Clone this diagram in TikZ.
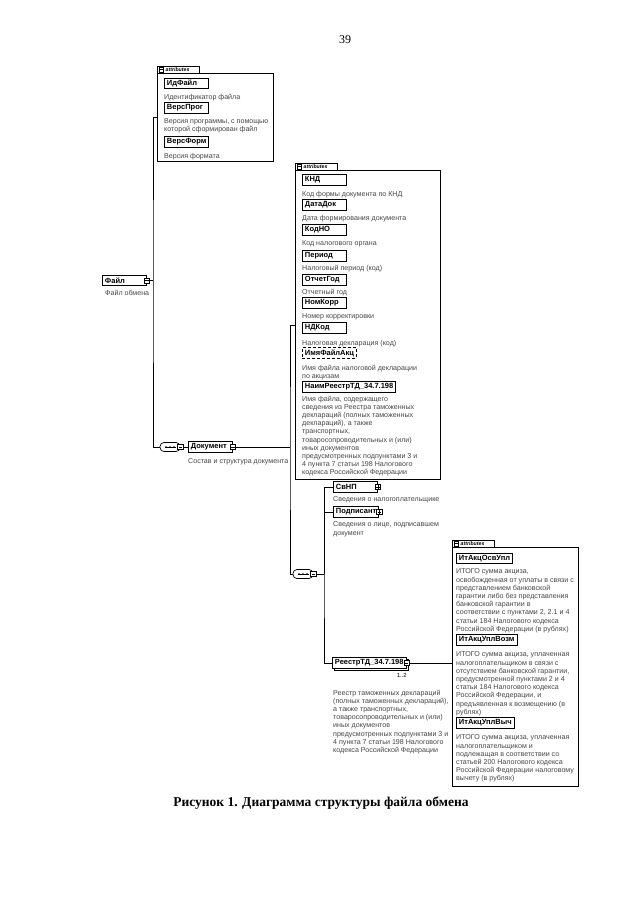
\documentclass[tikz,border=0pt]{standalone}
\usepackage{fontspec}
\setmainfont{Liberation Serif}
\newfontfamily\dgfont{Liberation Sans}
\usetikzlibrary{shadows}

\newcommand{\elnm}[1]{\setbox0=\hbox{#1}\ifdim\wd0<39pt\hbox to 39pt{\box0\hfil}\else\box0\fi}

\tikzset{
  pics/plusbox/.style={code={
    \draw[fill=white, line width=0.5pt] (-2.7,-2.7) rectangle (2.7,2.7);
    \draw[line width=0.5pt] (-1.6,0) -- (1.6,0) (0,-1.6) -- (0,1.6);
  }},
  pics/minusbox/.style={code={
    \draw[fill=white, line width=0.5pt] (-2.7,-2.7) rectangle (2.7,2.7);
    \draw[line width=0.5pt] (-1.6,0) -- (1.6,0);
  }},
  pics/seqdots/.style={code={
    \draw[line width=0.5pt] (-5.5,0) -- (5.5,0);
    \fill (-4,0) circle (0.9) (0,0) circle (0.9) (4,0) circle (0.9);
  }},
  pics/atab/.style={code={
    \draw[fill=white, line width=0.6pt] (0,0) rectangle (42,7);
    \draw[line width=0.4pt] (2,1.2) rectangle (6.6,5.8);
    \draw[line width=0.4pt] (2.9,3.5) -- (5.7,3.5);
    \node[anchor=west, inner sep=0, font=\dgfont\bfseries\itshape\fontsize{5.2}{6}\selectfont] at (8.5,3.7) {attributes};
  }}
}

\begin{document}
\begin{tikzpicture}[x=1pt, y=-1pt,
  elem/.style={draw, line width=0.9pt, fill=white, anchor=west, minimum height=10.5, minimum width=44, inner xsep=2.5, inner ysep=0, font=\dgfont\bfseries\fontsize{7.5}{8}\selectfont},
  opt/.style={elem, densely dashed},
  desc/.style={anchor=north west, align=left, inner sep=0, text=black!72, font=\dgfont\fontsize{7.1}{8.2}\selectfont},
  abox/.style={draw, line width=0.6pt, anchor=north west, inner sep=0},
  seq/.style={draw, line width=0.7pt, fill=white, rounded corners=4, minimum width=20, minimum height=9, inner sep=0},
  mult/.style={anchor=east, inner sep=0, font=\dgfont\fontsize{6}{7}\selectfont},
  ln/.style={line width=0.6pt}
]
\fill[white] (0,0) rectangle (640,905);
\useasboundingbox (0,0) rectangle (640,905);

\node[font=\fontsize{12}{14}\selectfont] (pagenum) at (345,40) {39};

\node[abox, minimum width=116, minimum height=88] (attA) at (157,73) {};
\pic at (157,66) {atab};
\node[elem] (idfajl) at (164,83.5) {\elnm{ИдФайл}};
\node[desc] at (164,93.7) {Идентификатор файла};
\node[elem] (versprog) at (164,108) {\elnm{ВерсПрог}};
\node[desc] at (164,118.7) {Версия программы, с помощью\\которой сформирован файл};
\node[elem] (versform) at (164,142) {\elnm{ВерсФорм}};
\node[desc] at (164,152.7) {Версия формата};

\node[elem] (fajl) at (102,280.5) {\elnm{Файл}};
\node[desc] at (105,289.7) {Файл обмена};

\node[abox, minimum width=145, minimum height=309] (attB) at (295,170) {};
\pic at (295,163) {atab};
\node[elem] (knd) at (302,180) {\elnm{КНД}};
\node[desc] at (302,190.7) {Код формы документа по КНД};
\node[elem] (datadok) at (302,205) {\elnm{ДатаДок}};
\node[desc] at (302,214.7) {Дата формирования документа};
\node[elem] (kodno) at (302,230) {\elnm{КодНО}};
\node[desc] at (302,240.7) {Код налогового органа};
\node[elem] (period) at (302,256) {\elnm{Период}};
\node[desc] at (302,264.7) {Налоговый период (код)};
\node[elem] (otchgod) at (302,280) {\elnm{ОтчетГод}};
\node[desc] at (302,288.7) {Отчетный год};
\node[elem] (nomkorr) at (302,303) {\elnm{НомКорр}};
\node[desc] at (302,313.7) {Номер корректировки};
\node[elem] (ndkod) at (302,328) {\elnm{НДКод}};
\node[desc] at (302,339.7) {Налоговая декларация (код)};
\node[opt] (imyafajl) at (302,353) {\elnm{ИмяФайлАкц}};
\node[desc] at (302,364.7) {Имя файла налоговой декларации\\по акцизам};
\node[elem] (naimreestr) at (302,387) {\elnm{НаимРеестрТД\_34.7.198}};
\node[desc] at (302,395.7) {Имя файла, содержащего\\сведения из Реестра таможенных\\деклараций (полных таможенных\\деклараций), а также\\транспортных,\\товаросопроводительных и (или)\\иных документов\\предусмотренных подпунктами 3 и\\4 пункта 7 статьи 198 Налогового\\кодекса Российской Федерации};

\node[seq] (seqa) at (170,447) {};
\node[elem] (dok) at (188,447) {\elnm{Документ}};
\node[desc] at (188,458.7) {Состав и структура документа};

\node[seq] (seqb) at (303,574) {};
\node[elem] (svnp) at (333,487) {\elnm{СвНП}};
\node[desc] at (333,496.7) {Сведения о налогоплательщике};
\node[elem] (podp) at (333,512) {\elnm{Подписант}};
\node[desc] at (333,521.7) {Сведения о лице, подписавшем\\документ};
\node[elem, copy shadow={shadow xshift=2pt, shadow yshift=-2pt}] (reestr) at (332,663) {\elnm{РеестрТД\_34.7.198}};
\node[mult] (reestrmult) at (407,675) {1..2};
\node[desc] at (333,689.7) {Реестр таможенных деклараций\\(полных таможенных деклараций),\\а также транспортных,\\товаросопроводительных и (или)\\иных документов\\предусмотренных подпунктами 3 и\\4 пункта 7 статьи 198 Налогового\\кодекса Российской Федерации};

\node[abox, minimum width=126, minimum height=239] (attC) at (452,547) {};
\pic at (452,540) {atab};
\node[elem] (itosv) at (456,558.5) {\elnm{ИтАкцОсвУпл}};
\node[desc] at (456,568.7) {ИТОГО сумма акциза,\\освобожденная от уплаты в связи с\\представлением банковской\\гарантии либо без представления\\банковской гарантии в\\соответствии с пунктами 2, 2.1 и 4\\статьи 184 Налогового кодекса\\Российской Федерации (в рублях)};
\node[elem] (itvozm) at (456,640) {\elnm{ИтАкцУплВозм}};
\node[desc] at (456,651.7) {ИТОГО сумма акциза, уплаченная\\налогоплательщиком в связи с\\отсутствием банковской гарантии,\\предусмотренной пунктами 2 и 4\\статьи 184 Налогового кодекса\\Российской Федерации, и\\предъявленная к возмещению (в\\рублях)};
\node[elem] (itvych) at (456,723) {\elnm{ИтАкцУплВыч}};
\node[desc] at (456,734.7) {ИТОГО сумма акциза, уплаченная\\налогоплательщиком и\\подлежащая в соответствии со\\статьей 200 Налогового кодекса\\Российской Федерации налоговому\\вычету (в рублях)};

\coordinate (busA) at (153,280.5);
\coordinate (busB) at (290,447);
\coordinate (busC) at (324,574);
\draw[ln] (fajl.east) -- (busA);
\draw[ln] (attA.west) -| (busA) |- (seqa.west);
\draw[ln] (seqa.east) -- (dok.west);
\draw[ln] (dok.east) -- (busB);
\draw[ln] (attB.west) -| (busB) |- (seqb.west);
\draw[ln] (seqb.east) -- (busC);
\draw[ln] (svnp.west) -| (busC) |- (reestr.west);
\draw[ln] (podp.west) -| (busC);
\draw[ln] (reestr.east) -- (reestr.east -| attC.west);

\pic at (seqa) {seqdots};
\pic at (seqb) {seqdots};
\pic at (seqa.east) {minusbox};
\pic at (seqb.east) {minusbox};
\pic at (fajl.east) {minusbox};
\pic at (dok.east) {minusbox};
\pic at (reestr.east) {minusbox};
\pic at (svnp.east) {plusbox};
\pic at (podp.east) {plusbox};

\node[font=\bfseries\fontsize{13.5}{16}\selectfont] (caption) at (321,803) {Рисунок 1. Диаграмма структуры файла обмена};
\end{tikzpicture}
\end{document}
